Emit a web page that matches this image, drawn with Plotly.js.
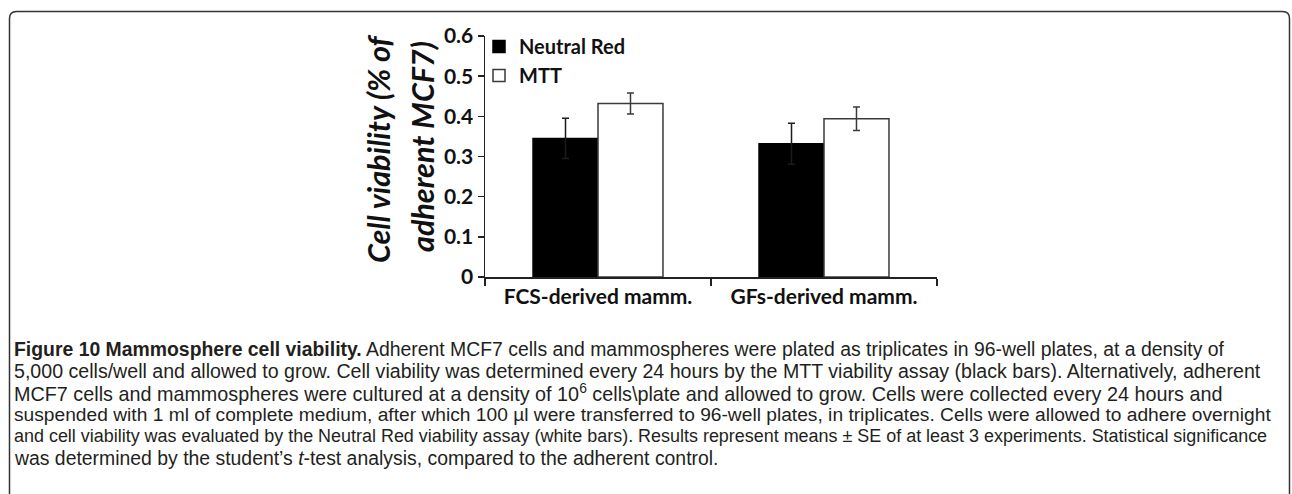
<!DOCTYPE html>
<html>
<head>
<meta charset="utf-8">
<script src="https://cdn.plot.ly/plotly-3.0.1.min.js"></script>
<style>html,body{margin:0;padding:0;background:#fff;}#chart{width:1292px;height:494px;}</style>
</head>
<body>
<div id="chart"></div>
<script>
// ---- data ----
const categories = ["FCS-derived mamm.", "GFs-derived mamm."];
const neutralRed = [0.345, 0.332];
const neutralRedSE = [0.05, 0.051];
const mtt = [0.432, 0.394];
const mttSE = [0.026, 0.029];
const seriesNames = ["Neutral Red", "MTT"];
const yTickVals = [0, 0.1, 0.2, 0.3, 0.4, 0.5, 0.6];
const yTickText = ["0", "0.1", "0.2", "0.3", "0.4", "0.5", "0.6"];
const yTitleLines = ["Cell viability (% of", "adherent MCF7)"];
const captionLines = [
  "<b>Figure 10 Mammosphere cell viability.</b> Adherent MCF7 cells and mammospheres were plated as triplicates in 96-well plates, at a density of",
  "5,000 cells/well and allowed to grow. Cell viability was determined every 24 hours by the MTT viability assay (black bars). Alternatively, adherent",
  "MCF7 cells and mammospheres were cultured at a density of 10<sup>6</sup> cells\\plate and allowed to grow. Cells were collected every 24 hours and",
  "suspended with 1 ml of complete medium, after which 100 µl were transferred to 96-well plates, in triplicates. Cells were allowed to adhere overnight",
  "and cell viability was evaluated by the Neutral Red viability assay (white bars). Results represent means ± SE of at least 3 experiments. Statistical significance",
  "was determined by the student’s <i>t</i>-test analysis, compared to the adherent control."
];

// ---- layout geometry (pixels) ----
const W = 1292, H = 494;
const plotL = 485, plotR = 937, plotT = 36, plotB = 277;
const pw = plotR - plotL, ph = plotB - plotT;
const px2x = p => (p - plotL) / pw;
const py2y = p => (plotB - p) / ph;

const axisFam = "Lato, 'Open Sans', sans-serif";
const capFam = "'Liberation Sans', Arial, sans-serif";
const capSizes = [19.4, 19.6, 19.8, 19.2, 17.95, 19.4];

const traces = [
  {type: "bar", name: seriesNames[0], x: categories, y: neutralRed,
   marker: {color: "#000", line: {color: "#000", width: 1.5}},
   error_y: {type: "data", array: neutralRedSE, visible: true, color: "#1c1c1c", thickness: 1.5, width: 3.5}},
  {type: "bar", name: seriesNames[1], x: categories, y: mtt,
   marker: {color: "#fff", line: {color: "#3a3a3a", width: 1.5}},
   error_y: {type: "data", array: mttSE, visible: true, color: "#3a3a3a", thickness: 1.5, width: 3.5}}
];

const annotations = [];
const titlePos = [[378, 149], [422, 147]];
yTitleLines.forEach((t, i) => {
  annotations.push({
    xref: "paper", yref: "paper", x: px2x(titlePos[i][0]), y: py2y(titlePos[i][1]),
    text: "<i>" + t + "</i>", showarrow: false, textangle: -90,
    font: {family: axisFam, size: 30.5, color: "#111", weight: "bold"},
    xanchor: "center", yanchor: "middle", align: "center"
  });
});
const capTop = 349, capStep = 21.7;
captionLines.forEach((t, i) => {
  annotations.push({
    xref: "paper", yref: "paper", x: px2x(12), y: py2y(capTop + i * capStep),
    text: t, showarrow: false, xanchor: "left", yanchor: "middle", align: "left",
    font: {family: capFam, size: capSizes[i], color: "#231f20"}
  });
});

// rounded frame
const fL = 9.5, fT = 11.5, fR = 1289.5, fB = 520, r = 7;
const P = (x, y) => px2x(x) + "," + py2y(y);
const framePath = "M" + P(fL, fB) + " L" + P(fL, fT + r) + " Q" + P(fL, fT) + " " + P(fL + r, fT) +
  " L" + P(fR - r, fT) + " Q" + P(fR, fT) + " " + P(fR, fT + r) + " L" + P(fR, fB);

const layout = {
  width: W, height: H,
  margin: {l: plotL, r: W - plotR, t: plotT, b: H - plotB, pad: 0},
  paper_bgcolor: "#fff", plot_bgcolor: "#fff",
  barmode: "group", bargap: 0.425, bargroupgap: 0,
  showlegend: true,
  legend: {x: px2x(479), y: py2y(27), xanchor: "left", yanchor: "top",
    font: {family: axisFam, size: 20, color: "#111", weight: "bold"},
    bgcolor: "rgba(0,0,0,0)", itemwidth: 30},
  xaxis: {type: "category", range: [-0.5, 1.5], showgrid: false, zeroline: false,
    showline: true, linecolor: "#222", linewidth: 1.5,
    ticks: "outside", tickson: "boundaries", ticklen: 7, tickwidth: 1.5, tickcolor: "#222",
    tickfont: {family: axisFam, size: 21, color: "#111", weight: "bold"}, fixedrange: true},
  yaxis: {range: [0, 0.6], tickvals: yTickVals, ticktext: yTickText, showgrid: false, zeroline: false,
    showline: true, linecolor: "#222", linewidth: 1.5,
    ticks: "outside", ticklen: 6, tickwidth: 1.5, tickcolor: "#222",
    tickfont: {family: axisFam, size: 21, color: "#111", weight: "bold"}, fixedrange: true},
  annotations: annotations,
  shapes: [{type: "path", xref: "paper", yref: "paper", path: framePath,
    line: {color: "#333", width: 1.5}, layer: "above"}]
};

Plotly.newPlot("chart", traces, layout, {staticPlot: true, displayModeBar: false});
</script>
</body>
</html>
